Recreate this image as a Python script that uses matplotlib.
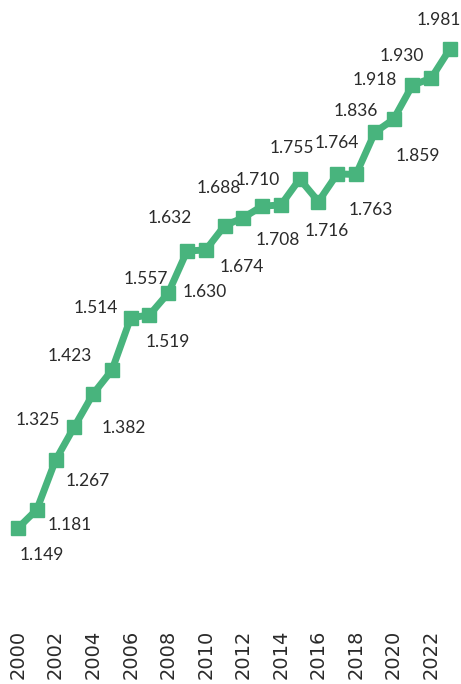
import matplotlib
matplotlib.use("Agg")
import matplotlib.pyplot as plt

# data
years = list(range(2000, 2024))
values = [1.149, 1.181, 1.267, 1.325, 1.382, 1.423, 1.514, 1.519, 1.557, 1.630,
          1.632, 1.674, 1.688, 1.708, 1.710, 1.755, 1.716, 1.764, 1.763, 1.836,
          1.859, 1.918, 1.930, 1.981]
tick_years = years[::2]

# label offsets (pixels, right / down) so labels sit like in the original
label_offsets = [(24, 27), (33, 15), (32, 21), (-37, -7), (31, 34), (-42, -14),
                 (-35, -10), (18, 27), (-22, -14), (18, 41), (-36, -32), (17, 41),
                 (-25, -30), (16, 34), (-23, -25), (-8, -31), (8, 29), (0, -31),
                 (15, 36), (-19, -21), (24, 37), (-38, -5), (-29, -22), (-11, -29)]

green = '#48b47d'
txt = '#2a2a2a'

fig = plt.figure(figsize=(4.61, 6.84), dpi=100)
ax = fig.add_axes([0, 74 / 684, 1, 610 / 684])

ax.plot(years, values, color=green, lw=5, marker='s', ms=10.5,
        solid_joinstyle='miter', zorder=3)

for x, v, (dx, dy) in zip(years, values, label_offsets):
    ax.annotate(f'{v:.3f}', (x, v), xytext=(dx, -dy), textcoords='offset pixels',
                ha='center', va='center', fontsize=12.5, color=txt,
                family='Lato')

ax.set_xlim(1999.04, 2023.59)
ax.set_ylim(1.0066, 2.066)

ax.set_xticks(tick_years)
ax.set_xticklabels([str(y) for y in tick_years], rotation=90, fontsize=14,
                   color=txt, family='DejaVu Sans')
ax.tick_params(axis='x', length=0, pad=14)
ax.set_yticks([])
for s in ax.spines.values():
    s.set_visible(False)

fig.savefig('out.png', dpi=100)
